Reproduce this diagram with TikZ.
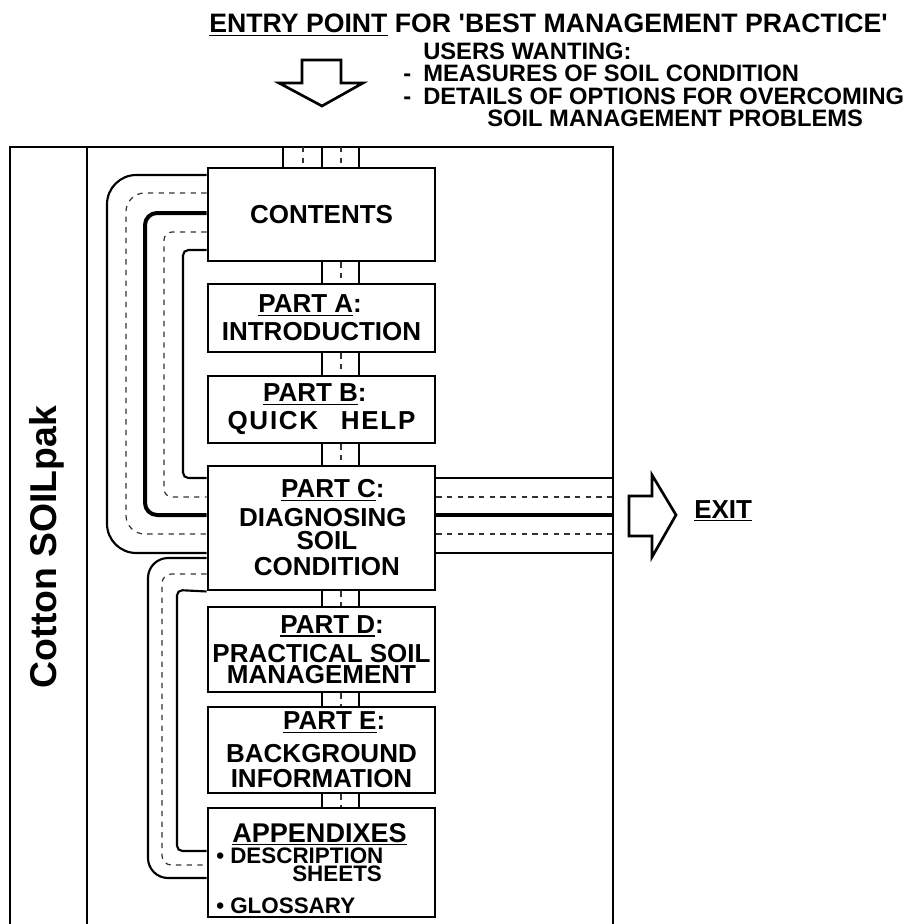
\documentclass[tikz,border=0pt]{standalone}
\usepackage{fontspec}
\setmainfont{Liberation Sans}
\newcommand\hfnt{\fontsize{20pt}{22pt}\selectfont\bfseries}
\newcommand\sfnt{\fontsize{17.8pt}{20pt}\selectfont\bfseries}
\newcommand\bfnt{\fontsize{19.5pt}{19pt}\selectfont\bfseries}
\newcommand\apfnt{\fontsize{20.3pt}{19pt}\selectfont\bfseries}
\newcommand\afnt{\fontsize{16.8pt}{19pt}\selectfont\bfseries}
\newcommand\cfnt{\fontsize{28pt}{30pt}\selectfont\bfseries}
\newcommand\ls{\kern1.3pt}
\newcommand\ul[1]{\setbox0\hbox{#1}\rlap{\rule[-2.6pt]{\wd0}{1.3pt}}\box0\relax}
\begin{document}
\begin{tikzpicture}[x=0.75pt,y=-0.75pt,
  box/.style={draw, line width=2.2pt, minimum width=170.25pt, align=center, inner sep=2pt, font=\bfnt},
  frm/.style={line width=2.1pt},
  chan/.style={line width=1.6pt},
  thk/.style={line width=3pt},
  dsh/.style={line width=0.9pt, dash pattern=on 4pt off 4pt, black!80},
  blk/.style={line width=2pt, line join=miter},
  txt/.style={inner sep=0pt, anchor=base west}]

\useasboundingbox (0,0) rectangle (911,924);

% header
\node[txt, font=\hfnt] (hdr) at (209,33) {\ul{ENTRY POINT} FOR \textquotesingle BEST MANAGEMENT PRACTICE\textquotesingle};
\node[txt, font=\sfnt] (users) at (423,60) {USERS WANTING:};
\node[txt, font=\sfnt] (w1) at (403,82) {\makebox[15pt][l]{-}MEASURES OF SOIL CONDITION};
\node[txt, font=\sfnt] (w2) at (403,104) {\makebox[15pt][l]{-}DETAILS OF OPTIONS FOR OVERCOMING};
\node[txt, font=\sfnt] (w3) at (487,126) {SOIL MANAGEMENT PROBLEMS};

% entry arrow
\draw[blk] (302,60) -- (341,60) -- (341,83) -- (363,83) -- (322,106) -- (279,83) -- (302,83) -- cycle;

% frame
\coordinate (fbl) at (10,924);
\coordinate (ftl) at (10,147);
\coordinate (ftr) at (613,147);
\coordinate (fbr) at (613,924);
\draw[frm] (fbl) -- (ftl) -- (ftr) -- (fbr);
\draw[frm] (ftl -| 87,0) -- (fbl -| 87,0);

\node[rotate=90, font=\cfnt, inner sep=0pt] (title) at (47,547) {Cotton SOILpak};

% boxes
\node[box, minimum height=69.75pt] (contents) at (321.5,214.5) {CONTENTS};
\node[box, minimum height=51pt] (pa) at (321.5,318) {\ul{PART A}:\kern17pt\\[2pt]INTRODUCTION};
\node[box, minimum height=50.25pt] (pb) at (321.5,409.5) {\ul{PART B}:\kern10pt\\[2pt]Q\ls U\ls I\ls C\ls K\kern17pt H\ls E\ls L\ls P};
\node[box, minimum height=93pt] (pc) at (321.5,528) {\kern17pt\ul{PART C}:\\[2.75pt]\kern2pt DIAGNOSING\\[-1.75pt]\kern8pt SOIL\\[0.5pt]\kern8pt CONDITION};
\node[box, minimum height=63.75pt] (pd) at (321.5,649.5) {\kern16pt\ul{PART D}:\\[2.75pt]PRACTICAL SOIL\\[-3.25pt]MANAGEMENT};
\node[box, minimum height=64.5pt] (pe) at (321.5,750) {\kern19pt\ul{PART E}:\\[5.75pt]BACKGROUND\\[-0.25pt]INFORMATION};
\node[box, minimum height=81.75pt] (app) at (321.5,862.5) {};
\node[txt, font=\apfnt] (appt) at (232,842) {\ul{APPENDIXES}};
\node[txt, font=\afnt] (appd) at (216,863) {•\ DESCRIPTION};
\node[txt, font=\afnt] (apps) at (292,881) {SHEETS};
\node[txt, font=\afnt] (appg) at (216,913) {•\ GLOSSARY};

% channels on top
\foreach \x in {283,322,359} \draw[chan] (ftl -| \x,0) -- (contents.north -| \x,0);
\foreach \x in {303,341} \draw[dsh] (ftl -| \x,0) -- (contents.north -| \x,0);

% channels between boxes
\foreach \a/\b in {contents/pa, pa/pb, pb/pc, pc/pd, pd/pe, pe/app} {
  \draw[chan] (\a.south -| 322,0) -- (\b.north -| 322,0);
  \draw[chan] (\a.south -| 359,0) -- (\b.north -| 359,0);
  \draw[dsh] (\a.south -| 341,0) -- (\b.north -| 341,0);
}

% right exit channel
\draw[chan] (pc.east |- 0,478) -- (ftr |- 0,478);
\draw[dsh]  (pc.east |- 0,497) -- (ftr |- 0,497);
\draw[thk]  (pc.east |- 0,515) -- (ftr |- 0,515);
\draw[dsh]  (pc.east |- 0,534) -- (ftr |- 0,534);
\draw[chan] (pc.east |- 0,553) -- (ftr |- 0,553);

% left loops contents <-> part C
\draw[chan, rounded corners=22pt] (contents.west |- 0,175) -- (107,175) -- (107,553) -- (pc.west |- 0,553);
\draw[dsh, rounded corners=14pt] (contents.west |- 0,193) -- (126,193) -- (126,534) -- (pc.west |- 0,534);
\draw[thk, rounded corners=9pt] (contents.west |- 0,213) -- (145,213) -- (145,515) -- (pc.west |- 0,515);
\draw[dsh, rounded corners=6pt] (contents.west |- 0,232) -- (164,232) -- (164,497) -- (pc.west |- 0,497);
\draw[chan, rounded corners=4pt] (contents.west |- 0,250) -- (183,250) -- (183,478) -- (pc.west |- 0,478);

% left loops part C <-> appendixes
\draw[chan, rounded corners=15pt] (pc.west |- 0,558) -- (148,558) -- (148,878) -- (app.west |- 0,878);
\draw[dsh, rounded corners=7pt] (pc.west |- 0,574) -- (162,574) -- (162,865) -- (app.west |- 0,865);
\draw[chan, rounded corners=4pt] (pc.south west) -- (177,590) -- (177,851) -- (app.west |- 0,851);

% exit arrow
\draw[blk] (629,496) -- (652,496) -- (652,475) -- (676,515) -- (652,557) -- (652,536) -- (629,536) -- cycle;
\node[txt, font=\bfnt] (exit) at (694,518) {\ul{EXIT}};
\end{tikzpicture}
\end{document}
